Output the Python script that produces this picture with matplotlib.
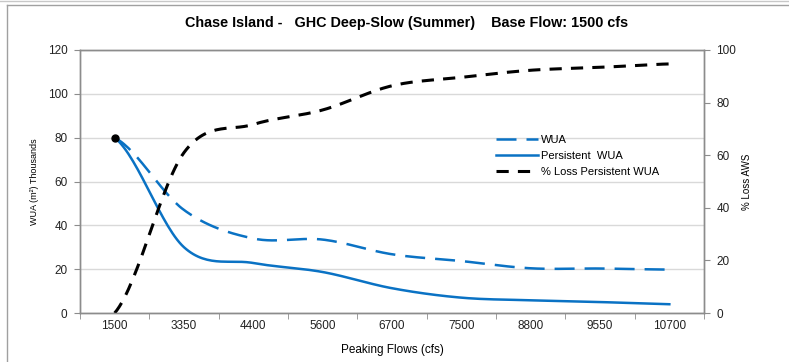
import numpy as np
import matplotlib
matplotlib.use("Agg")
import matplotlib.pyplot as plt
from matplotlib.lines import Line2D

plt.rcParams['font.family'] = ['Liberation Sans', 'DejaVu Sans']

# data
flows = ['1500', '3350', '4400', '5600', '6700', '7500', '8800', '9550', '10700']
wua = [80, 47, 34, 33.5, 26.8, 23.7, 20.4, 20.3, 19.8]
persistent_wua = [80, 30, 22.8, 18.7, 11.3, 7.0, 5.8, 5.0, 4.0]
pct_loss = [0, 61, 71.7, 77.2, 86.4, 89.6, 92.3, 93.4, 94.7]

blue = '#0a72c4'
grey = '#8c8c8c'


def smooth(y, n=30):
    # Catmull-Rom style smoothing, like Excel's "smoothed line"
    y = np.asarray(y, dtype=float)
    x = np.arange(len(y), dtype=float)
    p = np.concatenate([[y[0]], y, [y[-1]]])
    xs, ys = [], []
    for i in range(len(y) - 1):
        p0, p1, p2, p3 = p[i], p[i + 1], p[i + 2], p[i + 3]
        t = np.linspace(0, 1, n, endpoint=False)
        yy = 0.5 * (2 * p1 + (-p0 + p2) * t + (2 * p0 - 5 * p1 + 4 * p2 - p3) * t ** 2
                    + (-p0 + 3 * p1 - 3 * p2 + p3) * t ** 3)
        xs.append(x[i] + t)
        ys.append(yy)
    xs.append([x[-1]])
    ys.append([y[-1]])
    return np.concatenate(xs), np.concatenate(ys)


fig = plt.figure(figsize=(7.89, 3.62), dpi=100)
ax = fig.add_axes([80 / 789, 1 - 313 / 362, 624 / 789, 263 / 362])
ax2 = ax.twinx()

idx = np.arange(len(flows))

xs, ys = smooth(wua)
l1, = ax.plot(xs, ys, color=blue, lw=1.8, dashes=(8, 4), label='WUA')
xs, ys = smooth(persistent_wua)
l2, = ax.plot(xs, ys, color=blue, lw=1.8, label='Persistent  WUA')
ax.plot(idx[0], wua[0], 'o', color='black', ms=5, zorder=5)

xs, ys = smooth(pct_loss)
l3, = ax2.plot(xs, ys, color='black', lw=2.2, dashes=(4, 3), label='% Loss Persistent WUA')

ax.set_xlim(-0.5, len(flows) - 0.5)
ax.set_ylim(0, 120)
ax.set_yticks(np.arange(0, 121, 20))
ax2.set_ylim(0, 100)
ax2.set_yticks(np.arange(0, 101, 20))

ax.set_xticks(idx)
ax.set_xticklabels(flows)
ax.set_xticks(np.arange(-0.5, len(flows), 1), minor=True)
ax.tick_params(axis='x', which='major', length=0, pad=5, labelsize=8.5, colors='#222222')
ax.tick_params(axis='x', which='minor', length=4, color=grey)
ax.tick_params(axis='y', length=4, color=grey, labelsize=8.5, labelcolor='#222222', pad=5)
ax2.tick_params(axis='y', length=4, color=grey, labelsize=8.5, labelcolor='#222222', pad=5)

ax.grid(axis='y', color='#d9d9d9', lw=1)
ax.set_axisbelow(True)
for a in (ax, ax2):
    for s in a.spines.values():
        s.set_color(grey)
        s.set_linewidth(1)

ax.set_ylabel('WUA (m²) Thousands', fontsize=6.5, labelpad=6)
ax2.set_ylabel('% Loss AWS', fontsize=7, labelpad=4)
ax.set_xlabel('Peaking Flows (cfs)', fontsize=8.5, labelpad=9)

fig.text(0.515, 1 - 23 / 362, 'Chase Island -   GHC Deep-Slow (Summer)    Base Flow: 1500 cfs',
         ha='center', va='center', fontsize=10.4, fontweight='bold')

ax2.legend([l1, l2, l3], ['WUA', 'Persistent  WUA', '% Loss Persistent WUA'],
           loc='upper left', bbox_to_anchor=(0.65, 0.715), frameon=False,
           fontsize=8, handlelength=3.8, handletextpad=0.3, labelspacing=0.55)

# outer chart frame
fig.add_artist(Line2D([0, 1], [1 - 1 / 362] * 2, color='#c8c8c8', lw=1))
fig.add_artist(Line2D([7 / 789, 1], [1 - 5 / 362] * 2, color='#a0a0a0', lw=1))
fig.add_artist(Line2D([7 / 789] * 2, [0, 1 - 5 / 362], color='#a0a0a0', lw=1))

fig.savefig('out.png', dpi=100)
